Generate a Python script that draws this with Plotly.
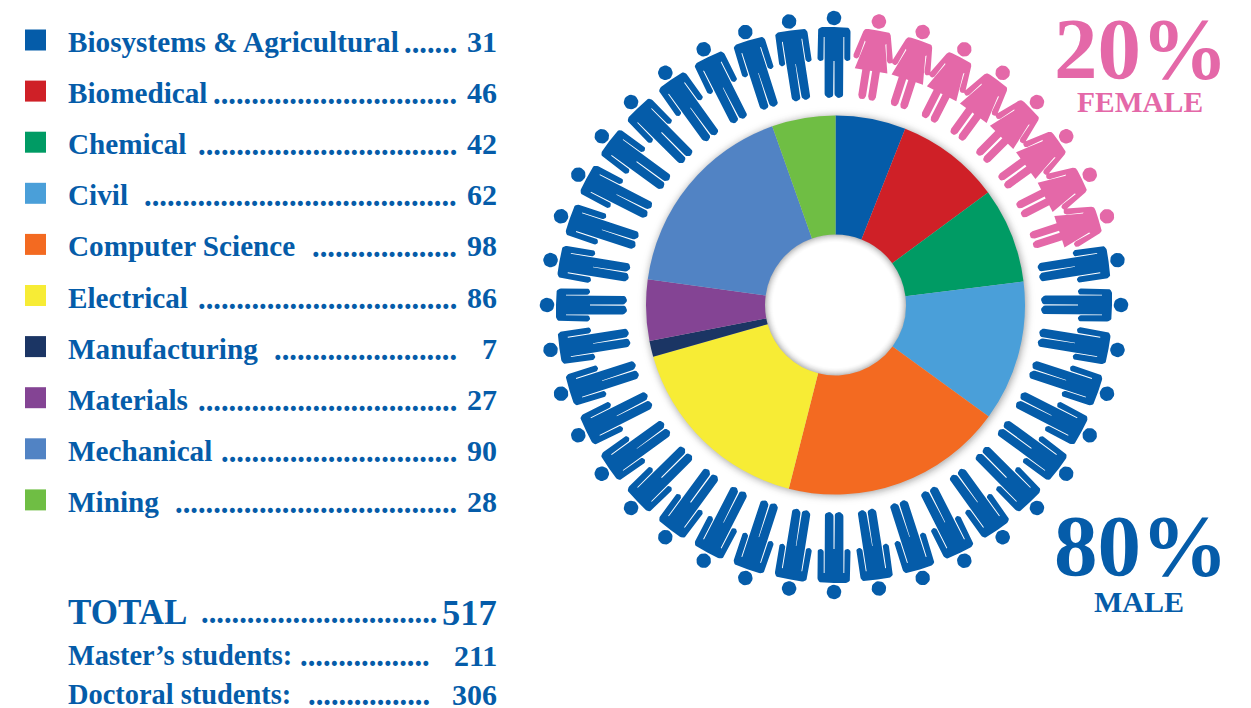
"""Engineering graduate students by department, with the gender ring of people."""
import math

import plotly.graph_objects as go

# data
departments = ["Biosystems & Agricultural", "Biomedical", "Chemical", "Civil", "Computer Science",
               "Electrical", "Manufacturing", "Materials", "Mechanical", "Mining"]
students = [31, 46, 42, 62, 98, 86, 7, 27, 90, 28]
leader_dots = [7, 32, 34, 41, 19, 34, 24, 34, 31, 37]
summary_labels = ["TOTAL", "Master’s students:", "Doctoral students:"]
summary_values = [517, 211, 306]
summary_dots = [31, 17, 16]
ring_people = 40
female_people = 8
female_share = "20%"
male_share = "80%"

colors = ["#055ca9", "#cf2027", "#009b64", "#4a9fd9", "#f36a21",
          "#f7ec35", "#1b3564", "#844494", "#5183c4", "#6fbe44"]
BLUE = "#055ca9"
PINK = "#e468a8"
SERIF = "Liberation Serif"

W, H = 1251, 708
CX, CY = 835.5, 305
R_OUT, R_HOLE = 189.5, 70.5
RING_CX, RING_CY, RING_R = 834, 305, 287


def arc(cx, cy, r, a0, a1, n=10):
    return [(cx + r * math.cos(math.radians(a0 + (a1 - a0) * i / n)),
             cy + r * math.sin(math.radians(a0 + (a1 - a0) * i / n))) for i in range(n + 1)]


def mirrored(half):
    return half + [(-u, d) for u, d in reversed(half)]


# glyphs are in px, origin at the head centre, d grows towards the feet
MALE_HALF = ([(0, 9)] + arc(11.5, 14, 5, -90, 0, 6) + arc(13.4, 40, 3.1, 0, 180, 8)
             + [(10.3, 19), (9.4, 19)] + arc(4.95, 75.5, 4.45, 0, 180, 8) + [(0.5, 43), (0, 43)])
FEMALE_HALF = ([(0, 9), (9, 9)] + arc(10, 13, 4, -80, -15, 4) + arc(17, 37, 3, -15, 165, 8)
               + [(10.9, 21), (10, 22), (16.5, 50), (8.9, 50)]
               + arc(5, 75.5, 3.9, 0, 180, 8) + [(1.1, 50), (0, 50)])
HEAD = arc(0, 0, 7.3, 0, 360, 24)


def person(angle_deg, half):
    """Rotated person around the ring, as x/y lists with None breaks."""
    t = math.radians(angle_deg)
    hx = RING_CX + RING_R * math.sin(t)
    hy = RING_CY - RING_R * math.cos(t)
    xs, ys = [], []
    for poly in (mirrored(half), HEAD):
        for u, d in poly:
            xs.append(hx + u * math.cos(t) - d * math.sin(t))
            ys.append(hy + u * math.sin(t) + d * math.cos(t))
        xs.append(None)
        ys.append(None)
    return xs, ys


fig = go.Figure()

# people ring
step = 360 / ring_people
for is_female, half, color in ((False, MALE_HALF, BLUE), (True, FEMALE_HALF, PINK)):
    xs, ys = [], []
    for i in range(ring_people):
        if (1 <= i <= female_people) != is_female:
            continue
        x, y = person(i * step, half)
        xs += x
        ys += y
    fig.add_trace(go.Scatter(x=xs, y=ys, mode="lines", fill="toself", fillcolor=color,
                             line=dict(width=0), hoverinfo="skip", showlegend=False))

# legend squares
row_y = [40 + 51.1 * i for i in range(len(departments))]
fig.add_trace(go.Scatter(x=[35.5] * len(departments), y=row_y, mode="markers",
                         marker=dict(symbol="square", size=21, color=colors),
                         hoverinfo="skip", showlegend=False))

# donut
fig.add_trace(go.Pie(labels=departments, values=students, sort=False, direction="clockwise",
                     rotation=0, hole=R_HOLE / R_OUT, textinfo="none", hoverinfo="label+value",
                     marker=dict(colors=colors, line=dict(width=0)), showlegend=False,
                     domain=dict(x=[(CX - R_OUT) / W, (CX + R_OUT) / W],
                                 y=[1 - (CY + R_OUT) / H, 1 - (CY - R_OUT) / H])))

# soft shadow behind the donut and inside the hole
shapes = []
for i in range(11):
    r = R_OUT + 10 - i
    g = 254 - int(i * i * 0.55)
    shapes.append(dict(type="circle", xref="x", yref="y", layer="below", line_width=0,
                       fillcolor=f"rgb({g},{g},{g})",
                       x0=CX + 1 - r, x1=CX + 1 + r, y0=CY + 1 - r, y1=CY + 1 + r))
for i in range(10):
    r = R_HOLE + 0.5 - i
    g = 255 - int((9 - i) ** 2 * 0.85)
    shapes.append(dict(type="circle", xref="x", yref="y", layer="below", line_width=0,
                       fillcolor=f"rgb({g},{g},{g})",
                       x0=CX - r, x1=CX + r, y0=CY - r, y1=CY + r))


def label(x, y, text, size, color=BLUE, anchor="left"):
    fig.add_annotation(x=x, y=y, xref="x", yref="y", text=text, showarrow=False,
                       xanchor=anchor, yanchor="middle",
                       font=dict(family=SERIF, size=size, color=color))


# legend rows
for i, name in enumerate(departments):
    y = 42 + 51.1 * i
    label(66, y, f"<b>{name}</b>", 29.2)
    label(459, y + 1, "<b>" + "." * leader_dots[i] + "</b>", 30.5, anchor="right")
    label(499, y - 0.5, f"<b>{students[i]}</b>", 30, anchor="right")

# summary block
summary_y = [612, 655, 694]
summary_sizes = [35, 28.4, 28.4]
value_sizes = [36.5, 30, 30]
summary_end = [439, 432, 432]
for i, name in enumerate(summary_labels):
    label(66, summary_y[i], f"<b>{name}</b>", summary_sizes[i])
    label(summary_end[i], summary_y[i] + 1, "<b>" + "." * summary_dots[i] + "</b>", 30.5, anchor="right")
    label(499, summary_y[i], f"<b>{summary_values[i]}</b>", value_sizes[i], anchor="right")

# share call-outs
label(1141, 48, f"<b>{female_share}</b>", 87, PINK, "center")
label(1140, 102, "<b>FEMALE</b>", 29.5, PINK, "center")
label(1141, 545, f"<b>{male_share}</b>", 87, BLUE, "center")
label(1139, 601, "<b>MALE</b>", 30, BLUE, "center")

fig.update_layout(
    width=W, height=H, margin=dict(l=0, r=0, t=0, b=0),
    paper_bgcolor="white", plot_bgcolor="white", shapes=shapes,
    xaxis=dict(range=[0, W], visible=False, fixedrange=True),
    yaxis=dict(range=[H, 0], visible=False, fixedrange=True),
)

fig.write_html("out.html", config=dict(displayModeBar=False),
               post_script="document.body.style.margin='0';")
